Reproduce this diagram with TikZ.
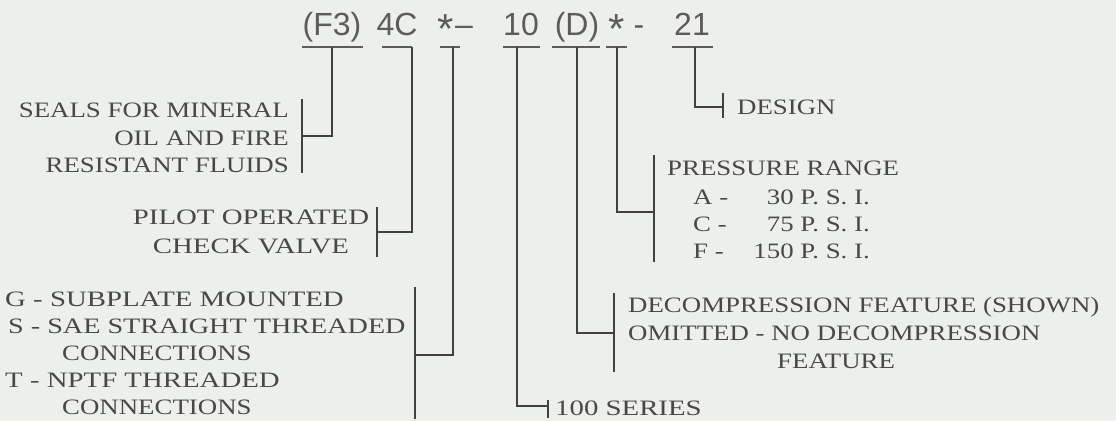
\documentclass[tikz,border=0pt]{standalone}
\usepackage{fontspec}
\setmainfont{Liberation Serif}[FakeStretch=1.22]
\newfontfamily\widefont{Liberation Serif}[FakeStretch=1.31]
\newfontfamily\midfont{Liberation Serif}[FakeStretch=1.28]
\newfontfamily\titlefont{Liberation Sans}
\definecolor{bg}{RGB}{237,240,234}
\definecolor{ink}{RGB}{72,72,72}
\definecolor{titleink}{RGB}{92,92,92}
\definecolor{wire}{RGB}{65,65,65}
\begin{document}
\begin{tikzpicture}[x=1pt,y=-1pt,
  lbl/.style={inner sep=0pt, text=ink, font=\fontsize{22}{27}\selectfont},
  wlbl/.style={inner sep=0pt, text=ink, font=\widefont\fontsize{22}{27}\selectfont},
  mlbl/.style={inner sep=0pt, text=ink, font=\midfont\fontsize{22}{27}\selectfont},
  codepart/.style={inner sep=0pt, text=titleink, font=\titlefont\fontsize{32}{36}\selectfont, anchor=base},
  starpart/.style={inner sep=0pt, text=titleink, font=\titlefont\fontsize{42}{44}\selectfont, anchor=base},
  link/.style={draw=wire, line width=1.1pt},
  uline/.style={draw=titleink, line width=1.2pt},
]
\useasboundingbox (0,0) rectangle (1116,421);
\fill[bg] (0,0) rectangle (1116,421);

% ---- model code ----
\node[codepart] (cF3) at (332,35) {(F3)};
\node[codepart] (c4C) at (397,35) {4C};
\node[starpart] (cS1) at (446,43) {*};
\node[codepart] (cD1) at (464,35) {–};
\node[codepart] (c10) at (521,35) {10};
\node[codepart] (cD)  at (577,35) {(D)};
\node[starpart] (cS2) at (617,43) {*};
\node[codepart] (cD2) at (639,35) {-};
\node[codepart] (c21) at (692,35) {21};

% underlines
\draw[uline] (302,47) -- (363,47);
\draw[uline] (382,47) -- (412,47);
\draw[uline] (440,47) -- (460,47);
\draw[uline] (503,47) -- (540,47);
\draw[uline] (552,47) -- (600,47);
\draw[uline] (606,47) -- (627,47);
\draw[uline] (672,47) -- (713,47);

% tick tops
\coordinate (u1) at (332,47);
\coordinate (u2) at (412,47);
\coordinate (u3) at (453,47);
\coordinate (u4) at (517,47);
\coordinate (u5) at (577,47);
\coordinate (u6) at (617,47);
\coordinate (u7) at (695,47);

% junctions on brackets
\coordinate (j1) at (302,136);
\coordinate (j2) at (377,232);
\coordinate (j3) at (415,355);
\coordinate (j4) at (548,406);
\coordinate (j5) at (614,333);
\coordinate (j6) at (654,212);
\coordinate (j7) at (723,107);

% bracket ends
\coordinate (b1a) at (302,99);  \coordinate (b1b) at (302,173);
\coordinate (b2a) at (377,207); \coordinate (b2b) at (377,257);
\coordinate (b3a) at (415,287); \coordinate (b3b) at (415,419);
\coordinate (b4a) at (548,400); \coordinate (b4b) at (548,418);
\coordinate (b5a) at (614,293); \coordinate (b5b) at (614,372);
\coordinate (b6a) at (654,155); \coordinate (b6b) at (654,262);
\coordinate (b7a) at (723,93);  \coordinate (b7b) at (723,118);

\foreach \i in {1,...,7} {
  \draw[link] (u\i) |- (j\i);
  \draw[link] (b\i a) -- (b\i b);
}

% ---- labels ----
\node[lbl, anchor=base east] (seals1) at (289,117) {SEALS FOR MINERAL};
\node[lbl, anchor=base east] (seals2) at (289,145) {OIL AND FIRE};
\node[lbl, anchor=base east] (seals3) at (289,172) {RESISTANT FLUIDS};

\node[wlbl, anchor=base] (pilot1) at (251,224) {PILOT OPERATED};
\node[wlbl, anchor=base] (pilot2) at (251,253) {CHECK VALVE};

\node[wlbl, anchor=base west] (conn1) at (5,306) {G - SUBPLATE MOUNTED};
\node[mlbl, anchor=base west] (conn2) at (8,333) {S - SAE STRAIGHT THREADED};
\node[lbl, anchor=base west] (conn3) at (62,360) {CONNECTIONS};
\node[wlbl, anchor=base west] (conn4) at (5,387) {T - NPTF THREADED};
\node[lbl, anchor=base west] (conn5) at (62,414) {CONNECTIONS};

\node[wlbl, anchor=base west] (series) at (555,415) {100 SERIES};

\node[lbl, anchor=base west] (dec1) at (628,312) {DECOMPRESSION FEATURE (SHOWN)};
\node[lbl, anchor=base west] (dec2) at (628,340) {OMITTED - NO DECOMPRESSION};
\node[lbl, anchor=base west] (dec3) at (777,368) {FEATURE};

\node[lbl, anchor=base west] (pr0) at (667,175) {PRESSURE RANGE};
\node[lbl, anchor=base west] (prA) at (693,204) {A -};
\node[lbl, anchor=base east] (prAv) at (870,204) {30 P. S. I.};
\node[lbl, anchor=base west] (prC) at (693,231) {C -};
\node[lbl, anchor=base east] (prCv) at (870,231) {75 P. S. I.};
\node[lbl, anchor=base west] (prF) at (693,258) {F -};
\node[lbl, anchor=base east] (prFv) at (870,258) {150 P. S. I.};

\node[lbl, anchor=base west] (design) at (737,114) {DESIGN};
\end{tikzpicture}
\end{document}
